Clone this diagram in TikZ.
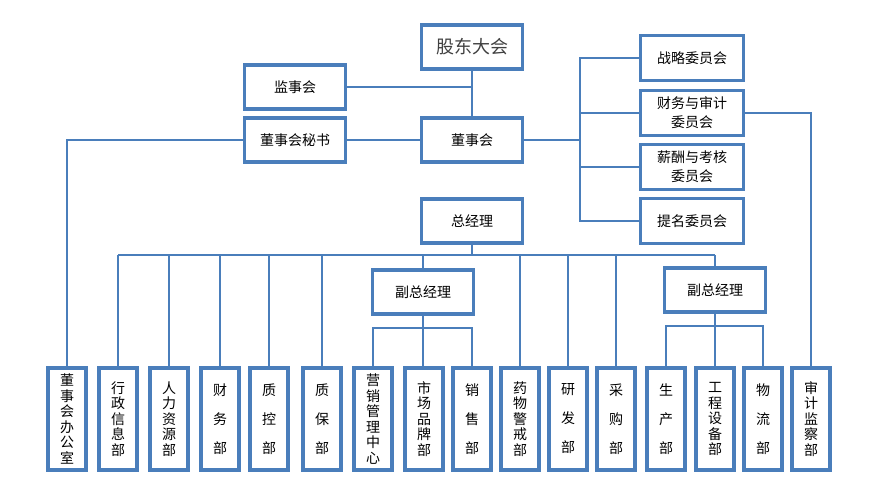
\documentclass[tikz,border=0pt]{standalone}
\usepackage{fontspec}
\newfontfamily\cjk{Noto Sans CJK SC}
\usepackage{xcolor}
\usetikzlibrary{positioning,calc}
\definecolor{orgblue}{HTML}{4A7EBB}

\begin{document}
\begin{tikzpicture}[x=1pt, y=-1pt,
    box/.style={draw=orgblue, line width=3.5pt, fill=white, minimum width=101pt, minimum height=44pt, inner sep=0pt, align=center, font=\cjk\fontsize{14}{19}\selectfont},
    dept/.style={box, minimum width=38pt, minimum height=102pt, font=\cjk\fontsize{14}{15.5}\selectfont},
    link/.style={draw=orgblue, line width=2pt}]
    \useasboundingbox (0,0) rectangle (874,498);

    % Board level
    \node[box, font=\cjk\fontsize{18}{20}\selectfont, text=black!75] (gd) at (472,47) {股东大会};
    \node[box] (jsh) at (295,87) {监事会};
    \node[box] (msh) at (295,140) {董事会秘书};
    \node[box] (dsh) at (472,140) {董事会};
    \node[box] (zjl) at (472,221) {总经理};

    % Committees
    \foreach \y/\txt/\n in {58/战略委员会/1, 113/财务与审计\\委员会/2, 167/薪酬与考核\\委员会/3, 221/提名委员会/4}
        \node[box, minimum width=103pt, minimum height=45pt] (wy\n) at (692,\y) {\txt};

    % Deputy general managers
    \node[box] (fz1) at (423,292) {副总经理};
    \node[box] (fz2) at (715,290) {副总经理};

    % Departments
    \foreach \x/\txt/\n in {67/董\\事\\会\\办\\公\\室/0, 118/行\\政\\信\\息\\部/1, 169/人\\力\\资\\源\\部/2,
        220/财\\[13.5pt]务\\[13.5pt]部/3, 269/质\\[13.5pt]控\\[13.5pt]部/4, 322/质\\[13.5pt]保\\[13.5pt]部/5,
        373/营\\销\\管\\理\\中\\心/6, 424/市\\场\\品\\牌\\部/7, 472/销\\[13.5pt]售\\[13.5pt]部/8,
        520/药\\物\\警\\戒\\部/9, 568/研\\[13.5pt]发\\[13.5pt]部/10, 616/采\\[13.5pt]购\\[13.5pt]部/11,
        666/生\\[13.5pt]产\\[13.5pt]部/12, 715/工\\程\\设\\备\\部/13, 763/物\\[13.5pt]流\\[13.5pt]部/14,
        811/审\\计\\监\\察\\部/15}
        \node[dept] (d\n) at (\x,419) {\txt};

    % Connectors
    \coordinate (cbus) at (580,140);
    \coordinate (bus) at (472,255);
    \coordinate (sub1) at (423,328);
    \coordinate (sub2) at (715,326);

    \draw[link] (gd) -- (dsh);
    \draw[link] (jsh.east) -- (jsh.east -| gd.south);
    \draw[link] (msh) -- (dsh);
    \draw[link] (msh.west) -| (d0.north);
    \draw[link] (dsh) -- (cbus);
    \draw[link] (wy1.west) -| (cbus) |- (wy4.west);
    \foreach \n in {2,3}
        \draw[link] (wy\n.west) -- (wy\n.west -| cbus);
    \draw[link] (wy2.east) -| (d15.north);

    \draw[link] (zjl) -- (bus);
    \draw[link] (d1.north |- bus) -- (fz2.north |- bus);
    \foreach \n in {1,...,5,9,10,11}
        \draw[link] (d\n.north |- bus) -- (d\n.north);
    \foreach \n in {1,2}
        \draw[link] (fz\n.north |- bus) -- (fz\n.north);

    \draw[link] (d6.north) |- (sub1) -| (d8.north);
    \draw[link] (fz1.south) -- (fz1.south |- d7.north);
    \draw[link] (d12.north) |- (sub2) -| (d14.north);
    \draw[link] (fz2.south) -- (d13.north);
\end{tikzpicture}
\end{document}
